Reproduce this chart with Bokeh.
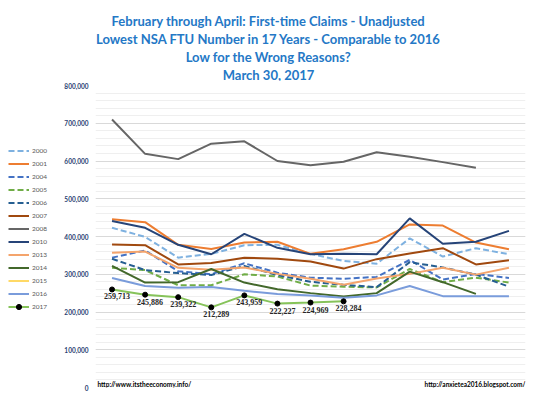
from bokeh.plotting import figure
from bokeh.layouts import column, row
from bokeh.models import (Range1d, Legend, LegendItem, Label, LabelSet,
                          ColumnDataSource, SingleIntervalTicker, NumeralTickFormatter)
from bokeh.embed import file_html
from bokeh.resources import INLINE

# ---- data (weekly first-time claims, NSA, February through April) ----
weeks = list(range(1, 14))
y2000 = [423000, 399000, 344000, 354000, 377000, 378000, 354000, 335000, 328000, 395000, 347000, 369000, 353000]
y2001 = [446000, 438000, 378000, 367000, 384000, 386000, 354000, 366000, 386000, 432000, 429000, 384000, 366000]
y2004 = [344000, 363000, 308000, 300000, 329000, 304000, 291000, 288000, 293000, 338000, 286000, 301000, 290000]
y2005 = [317000, 311000, 271000, 271000, 300000, 294000, 270000, 267000, 265000, 314000, 279000, 291000, 278000]
y2006 = [341000, 311000, 303000, 298000, 322000, 298000, 280000, 272000, 266000, 332000, 318000, 299000, 267000]
y2007 = [379000, 377000, 326000, 330000, 344000, 341000, 334000, 315000, 340000, 355000, 369000, 326000, 337000]
y2008 = [710000, 619000, 605000, 646000, 652000, 600000, 589000, 598000, 623000, 611000, 597000, 582000]
y2010 = [441000, 423000, 378000, 353000, 407000, 370000, 353000, 354000, 353000, 448000, 381000, 386000, 415000]
y2013 = [357000, 360000, 317000, 312000, 318000, 301000, 288000, 272000, 289000, 301000, 317000, 299000, 317000]
y2014 = [322000, 278000, 279000, 314000, 278000, 260000, 250000, 241000, 250000, 307000, 279000, 248000]
y2015 = []
y2016 = [290000, 269000, 264000, 266000, 256000, 248000, 244000, 238000, 244000, 269000, 242000, 242000, 242000]
y2017 = [259713, 245886, 239322, 212289, 243959, 222227, 224969, 228284]

series_names = ["2000", "2001", "2004", "2005", "2006", "2007", "2008",
                "2010", "2013", "2014", "2015", "2016", "2017"]
series_values = [y2000, y2001, y2004, y2005, y2006, y2007, y2008,
                 y2010, y2013, y2014, y2015, y2016, y2017]

title_lines = ["February through April: First-time Claims - Unadjusted",
               "Lowest NSA FTU Number in 17 Years - Comparable to 2016",
               "Low for the Wrong Reasons?",
               "March 30, 2017"]
footer_left = "http://www.itstheeconomy.info/"
footer_right = "http://anxietea2016.blogspot.com/"

# ---- styles ----
styles = {
    "2000": ("#7EB1E0", "6 3"),
    "2001": ("#ED7D31", "solid"),
    "2004": ("#4472C4", "6 3"),
    "2005": ("#70AD47", "6 3"),
    "2006": ("#255E91", "6 3"),
    "2007": ("#A0490F", "solid"),
    "2008": ("#666666", "solid"),
    "2010": ("#264478", "solid"),
    "2013": ("#F4A46C", "solid"),
    "2014": ("#43682B", "solid"),
    "2015": ("#FFD966", "solid"),
    "2016": ("#7A9CDB", "solid"),
    "2017": ("#86C35A", "solid"),
}
TITLE_COLOR = "#2478C6"


def blank(fig):
    fig.outline_line_color = None
    fig.background_fill_color = "white"
    fig.border_fill_color = "white"
    fig.xgrid.visible = False
    fig.ygrid.visible = False


# ---- title strip ----
tf = figure(width=544, height=81, output_backend="svg", toolbar_location=None,
            x_axis_location=None, y_axis_location=None, min_border=0,
            x_range=Range1d(0, 1), y_range=Range1d(0, 1))
blank(tf)
for txt, yy in zip(title_lines, [61, 43, 25, 7]):
    tf.add_layout(Label(x=268, y=yy, x_units="screen", y_units="screen", text=txt,
                        text_align="center", text_baseline="middle", text_font="Lato",
                        text_font_style="bold", text_font_size="13px",
                        text_color=TITLE_COLOR))

# ---- main chart ----
p = figure(width=484, height=314, output_backend="svg", toolbar_location=None,
           x_range=Range1d(0.5, 13.5), y_range=Range1d(0, 800000),
           x_axis_location=None,
           min_border_left=35, min_border_right=19, min_border_top=4, min_border_bottom=8)
blank(p)

ticker = SingleIntervalTicker(interval=100000, num_minor_ticks=5)
p.yaxis.ticker = ticker
p.yaxis.formatter = NumeralTickFormatter(format="0,0")
p.yaxis.axis_line_color = None
p.yaxis.major_tick_line_color = None
p.yaxis.minor_tick_line_color = None
p.yaxis.major_tick_out = 0
p.yaxis.major_tick_in = 0
p.yaxis.minor_tick_out = 0
p.yaxis.major_label_standoff = 7
p.yaxis.major_label_text_font = "Lato"
p.yaxis.major_label_text_font_style = "bold"
p.yaxis.major_label_text_font_size = "6.5px"
p.yaxis.major_label_text_color = "#2B3F73"
p.ygrid.visible = True
p.ygrid.ticker = ticker
p.ygrid.grid_line_color = "#D9D9D9"
p.ygrid.minor_grid_line_color = "#EFEFEF"

# ---- legend strip (its own renderers lie outside its visible ranges) ----
lf = figure(width=60, height=314, output_backend="svg", toolbar_location=None,
            x_axis_location=None, y_axis_location=None, min_border=0,
            x_range=Range1d(100, 101), y_range=Range1d(0, 1))
blank(lf)

items = []
for name, vals in zip(series_names, series_values):
    color, dash = styles[name]
    xs = weeks[:len(vals)]
    p.line(xs, vals, line_color=color, line_width=2, line_dash=dash)
    lvals = vals if vals else [0]
    lxs = weeks[:len(lvals)]
    lr = [lf.line(lxs, lvals, line_color=color, line_width=2, line_dash=dash)]
    if name == "2017":
        p.scatter(xs, vals, size=5, color="black")
        lr.append(lf.scatter(lxs, lvals, size=5, color="black"))
    items.append(LegendItem(label=name, renderers=lr))

src17 = ColumnDataSource(dict(x=weeks[:len(y2017)], y=y2017,
                              label=[f"{v:,}" for v in y2017]))
p.add_layout(LabelSet(x="x", y="y", text="label", source=src17,
                      x_offset=5, y_offset=-4, text_align="center", text_baseline="top",
                      text_font="Lato", text_font_style="bold", text_font_size="8px",
                      text_color="#262626"))

p.add_layout(Label(x=2, y=3.5, x_units="screen", y_units="screen", text=footer_left,
                   text_align="left", text_baseline="middle", text_font="Lato",
                   text_font_style="bold", text_font_size="6.5px", text_color="#000000"))
p.add_layout(Label(x=430, y=3.5, x_units="screen", y_units="screen", text=footer_right,
                   text_align="right", text_baseline="middle", text_font="Lato",
                   text_font_style="bold", text_font_size="6.5px", text_color="#000000"))

legend = Legend(items=items, location=(8, 74), padding=0, margin=0,
                border_line_color=None, background_fill_alpha=0,
                glyph_width=21, glyph_height=13, label_height=13, spacing=0,
                label_standoff=3, label_text_font="Lato", label_text_font_size="6.5px",
                label_text_color="#595959")
lf.add_layout(legend)

layout = column(tf, row(lf, p))
open("out.html", "w").write(file_html(layout, INLINE))
